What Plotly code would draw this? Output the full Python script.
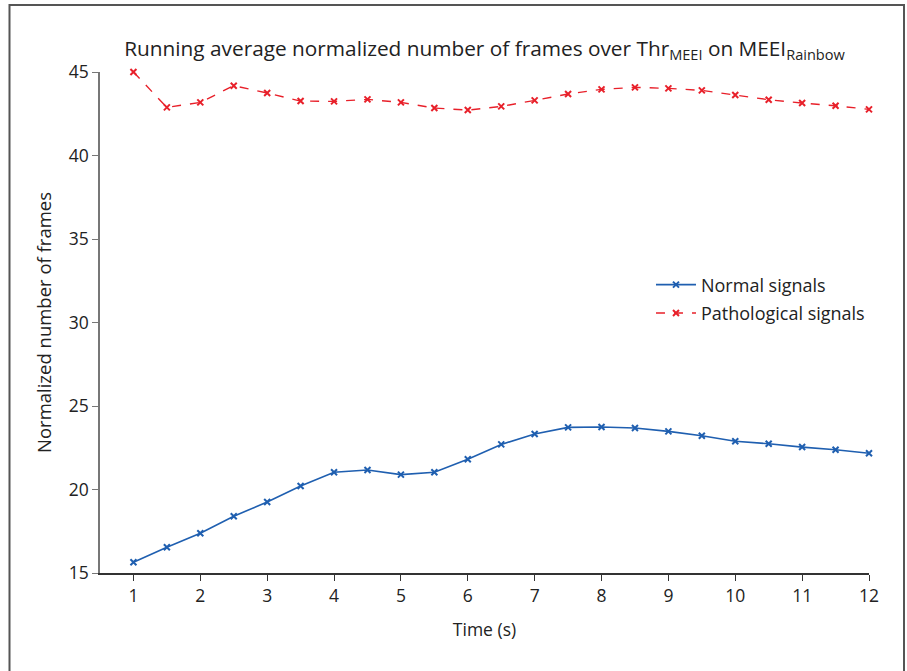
import plotly.graph_objects as go

time_s = [1, 1.5, 2, 2.5, 3, 3.5, 4, 4.5, 5, 5.5, 6, 6.5, 7, 7.5, 8, 8.5, 9, 9.5, 10, 10.5, 11, 11.5, 12]
normal = [15.64, 16.54, 17.38, 18.4, 19.25, 20.21, 21.03, 21.17, 20.89, 21.03, 21.81, 22.7,
          23.32, 23.72, 23.74, 23.68, 23.48, 23.22, 22.89, 22.74, 22.54, 22.38, 22.17]
pathological = [45.0, 42.88, 43.18, 44.18, 43.74, 43.26, 43.24, 43.36, 43.18, 42.84, 42.72, 42.94,
                43.3, 43.68, 43.96, 44.08, 44.02, 43.9, 43.62, 43.34, 43.14, 42.98, 42.76]
x_ticks = list(range(1, 13))
y_ticks = [15, 20, 25, 30, 35, 40, 45]

FONT = "Open Sans"

fig = go.Figure()
fig.add_trace(go.Scatter(
    x=time_s, y=normal, mode="lines+markers", name="Normal signals", cliponaxis=False,
    legendgroup="n",
    line=dict(color="#1f5fb0", width=1.6),
    marker=dict(symbol="x-thin", size=6, line=dict(color="#1f5fb0", width=2)),
))
fig.add_trace(go.Scatter(
    x=time_s, y=pathological, mode="lines+markers", name="Pathological signals", cliponaxis=False,
    legendgroup="p",
    line=dict(color="#e8202a", width=1.4, dash="dash"),
    marker=dict(symbol="x-thin", size=6, line=dict(color="#e8202a", width=2)),
))

fig.update_layout(
    width=907, height=671,
    margin=dict(l=100, r=38, t=72, b=98),
    paper_bgcolor="white", plot_bgcolor="white",
    font=dict(family=FONT, size=17, color="#222"),
    title=dict(
        text="Running average normalized number of frames over Thr<sub>MEEI</sub> on MEEI<sub>Rainbow</sub>",
        x=0.5, xref="paper", xanchor="center", y=0.928, yanchor="middle",
        font=dict(family=FONT, size=20.8, color="#222"),
    ),
    showlegend=True,
    legend=dict(x=0.7165, y=0.612, xanchor="left", yanchor="top",
                bgcolor="rgba(0,0,0,0)", font=dict(family=FONT, size=18, color="#222"),
                itemwidth=40, tracegroupgap=2),
    xaxis=dict(
        range=[0.5, 12], tickmode="array", tickvals=x_ticks, ticktext=[str(t) for t in x_ticks],
        showgrid=False, zeroline=False, showline=True, linecolor="#333", linewidth=1.5,
        ticks="outside", ticklen=6, tickcolor="#333", tickwidth=1.2,
        title=dict(text="Time (s)", font=dict(family=FONT, size=17.5), standoff=18),
        tickfont=dict(family=FONT, size=17.5),
    ),
    yaxis=dict(
        range=[15, 45], tickmode="array", tickvals=y_ticks, ticktext=[str(t) for t in y_ticks],
        showgrid=False, zeroline=False, showline=True, linecolor="#777", linewidth=1.5,
        ticks="outside", ticklen=6, tickcolor="#777", tickwidth=1.2,
        title=dict(text="Normalized number of frames", font=dict(family=FONT, size=18.5), standoff=12),
        tickfont=dict(family=FONT, size=17.5),
    ),
)

# outer frame around the whole figure
fig.add_shape(type="rect", xref="paper", yref="paper",
              x0=(9.5 - 100) / 769, x1=(904 - 100) / 769,
              y0=-0.3, y1=1 + (72 - 5) / 501,
              line=dict(color="#555", width=2), fillcolor="rgba(0,0,0,0)", layer="below")

fig.write_html("out.html")
